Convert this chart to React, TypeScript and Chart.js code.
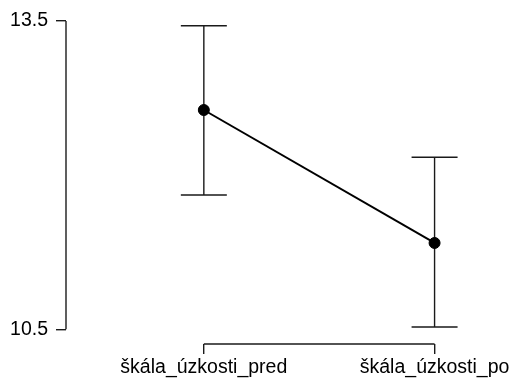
import React, { useEffect, useRef } from "react";
import { Chart, registerables } from "chart.js";

Chart.register(...registerables);

const categories = ["škála_úzkosti_pred", "škála_úzkosti_po"];
const means = [12.634, 11.34];
const lower = [11.807, 10.523];
const upper = [13.454, 12.174];
const yTicks = [10.5, 13.5];

const FONT = { family: "'Liberation Sans', Arial, sans-serif", size: 19.5 };

export default function App() {
  const ref = useRef<HTMLCanvasElement | null>(null);

  useEffect(() => {
    if (!ref.current) return;

    const axesAndBars = {
      id: "axesAndBars",
      beforeDatasetsDraw(chart: any) {
        const ctx = chart.ctx;
        const xs = chart.scales.x;
        const ys = chart.scales.y;
        const area = chart.chartArea;
        ctx.save();
        ctx.strokeStyle = "#1a1a1a";
        ctx.lineWidth = 1.4;
        // y axis line spanning tick range
        ctx.beginPath();
        ctx.moveTo(area.left, ys.getPixelForValue(yTicks[0]));
        ctx.lineTo(area.left, ys.getPixelForValue(yTicks[yTicks.length - 1]));
        ctx.stroke();
        // x axis line spanning categories
        ctx.beginPath();
        ctx.moveTo(xs.getPixelForValue(0), area.bottom);
        ctx.lineTo(xs.getPixelForValue(categories.length - 1), area.bottom);
        ctx.stroke();
        // error bars
        const cap = 23;
        for (let i = 0; i < categories.length; i++) {
          const px = xs.getPixelForValue(i);
          const lo = ys.getPixelForValue(lower[i]);
          const hi = ys.getPixelForValue(upper[i]);
          ctx.beginPath();
          ctx.moveTo(px, lo);
          ctx.lineTo(px, hi);
          ctx.moveTo(px - cap, lo);
          ctx.lineTo(px + cap, lo);
          ctx.moveTo(px - cap, hi);
          ctx.lineTo(px + cap, hi);
          ctx.stroke();
        }
        ctx.restore();
      },
    };

    const chart = new Chart(ref.current, {
      type: "line",
      data: {
        datasets: [
          {
            data: means.map((y, i) => ({ x: i, y })),
            borderColor: "#000",
            borderWidth: 2,
            pointBackgroundColor: "#000",
            pointBorderColor: "#000",
            pointRadius: 5.5,
            pointBorderWidth: 1,
            fill: false,
            tension: 0,
          },
        ],
      },
      options: {
        animation: false,
        responsive: true,
        maintainAspectRatio: false,
        layout: { padding: { top: 21, left: 0, right: 0, bottom: 0 } },
        plugins: {
          legend: { display: false },
          tooltip: { enabled: false },
        },
        scales: {
          x: {
            type: "linear",
            min: -0.5974,
            max: 1.3074,
            afterBuildTicks: (s: any) => {
              s.ticks = categories.map((_, i) => ({ value: i }));
            },
            afterFit: (s: any) => {
              s.height = 37;
              s.paddingLeft = 0;
              s.paddingRight = 0;
            },
            ticks: {
              autoSkip: false,
              maxRotation: 0,
              padding: 2,
              color: "#000",
              font: FONT,
              callback: (v: any) => categories[Math.round(Number(v))] ?? "",
            },
            grid: {
              display: true,
              drawOnChartArea: false,
              drawTicks: true,
              tickLength: 10,
              color: "#1a1a1a",
              lineWidth: 1.4,
            },
            border: { display: false },
          },
          y: {
            type: "linear",
            min: 10.357,
            max: 13.5,
            afterBuildTicks: (s: any) => {
              s.ticks = yTicks.map((v) => ({ value: v }));
            },
            afterFit: (s: any) => {
              s.width = 66;
              s.paddingTop = 0;
              s.paddingBottom = 0;
            },
            ticks: {
              padding: 8,
              color: "#000",
              font: FONT,
              callback: (v: any) => Number(v).toFixed(1),
            },
            grid: {
              display: true,
              drawOnChartArea: false,
              drawTicks: true,
              tickLength: 10,
              color: "#1a1a1a",
              lineWidth: 1.4,
            },
            border: { display: false },
          },
        },
      },
      plugins: [axesAndBars],
    });

    return () => chart.destroy();
  }, []);

  return (
    <div style={{ position: "absolute", left: 0, top: 0, width: 512, height: 381, background: "#fff" }}>
      <canvas ref={ref} />
    </div>
  );
}
